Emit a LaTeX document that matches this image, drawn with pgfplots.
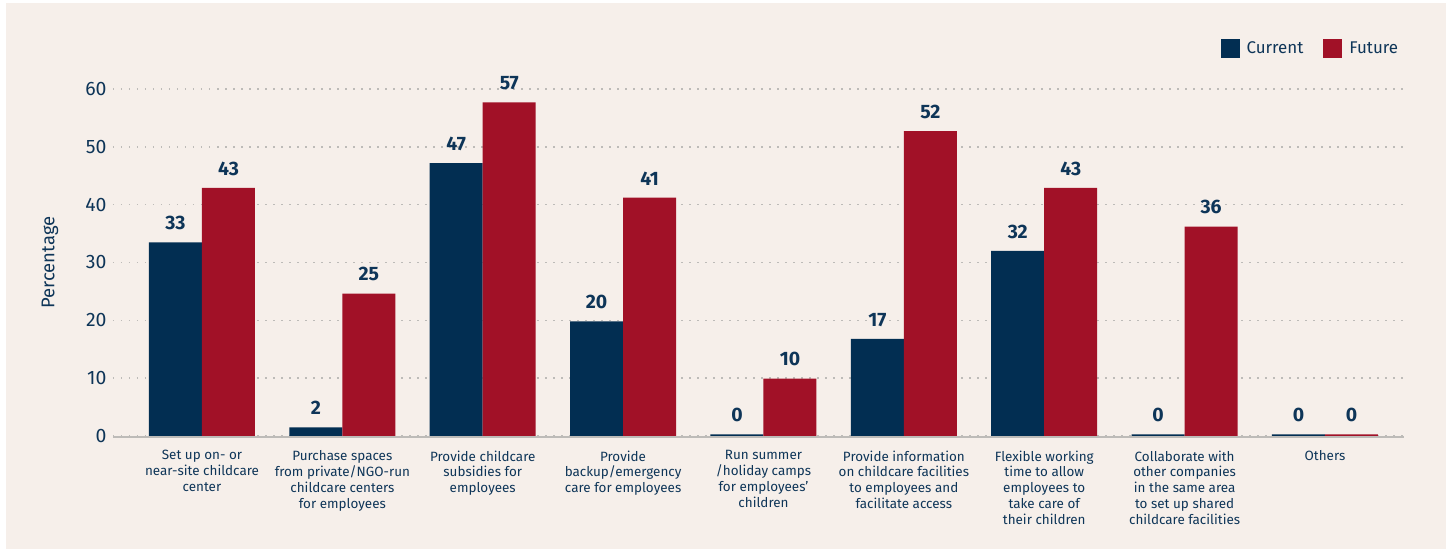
\documentclass[border=0pt]{standalone}
\usepackage{fontspec}
\setmainfont{Fira Sans}
\usepackage{pgfplots}
\pgfplotsset{compat=1.18}
\usepackage{pgfplotstable}
\definecolor{navy}{HTML}{022E52}
\definecolor{crimson}{HTML}{A11127}
\definecolor{txt}{HTML}{0E3558}
\definecolor{bg}{HTML}{F6EFEA}
\definecolor{gridc}{HTML}{BDBBB8}
\pgfplotstableread{
x cur curl fut futl
0 33.5 33 42.9 43
1 1.5 2 24.6 25
2 47.2 47 57.7 57
3 19.8 20 41.2 41
4 0.3 0 9.9 10
5 16.8 17 52.7 52
6 32.0 32 42.9 43
7 0.3 0 36.2 36
8 0.3 0 0.3 0
}\datatable
\begin{document}
\begin{tikzpicture}
\fill[white] (-113bp,-114bp) rectangle (1336bp,436bp);
\fill[bg] (-107bp,-113bp) rectangle (1333bp,433bp);
\useasboundingbox (-113bp,-114bp) rectangle (1336bp,436bp);
\begin{axis}[
  at={(0,0)}, anchor=south west,
  scale only axis, width=1291bp, height=347bp,
  xmin=-0.634, xmax=8.563, ymin=0, ymax=60,
  ybar=0pt, bar width=53bp,
  clip=false,
  axis line style={draw=none},
  major tick length=0pt,
  ytick={0,10,20,30,40,50,60},
  xtick={0,1,2,3,4,5,6,7,8},
  xticklabels={
    {Set up on- or\\near-site childcare\\center},
    {Purchase spaces\\from private/NGO-run\\childcare centers\\for employees},
    {Provide childcare\\subsidies for\\employees},
    {Provide\\backup/emergency\\care for employees},
    {Run summer\\/holiday camps\\for employees'\\children},
    {Provide information\\on childcare facilities\\to employees and\\facilitate access},
    {Flexible working\\time to allow\\employees to\\take care of\\their children},
    {Collaborate with\\other companies\\in the same area\\to set up shared\\childcare facilities},
    {Others}},
  /pgf/number format/assume math mode=true,
  yticklabel style={font=\fontsize{19.5}{22}\selectfont, text=txt, xshift=-3bp},
  xticklabel style={font=\fontsize{13.5}{16}\selectfont, text=txt, align=center, anchor=north, yshift=-11bp},
  ymajorgrids,
  grid style={gridc, line width=1.5bp, dash pattern=on 1.5bp off 6.5bp},
  ylabel={Percentage},
  ylabel style={at={(axis description cs:-0.0488,0.5)}, anchor=center, font=\fontsize{18.5}{21}\selectfont, text=txt},
  point meta=explicit symbolic,
  nodes near coords,
  nodes near coords style={font=\bfseries\fontsize{19.5}{22}\selectfont, text=txt, yshift=9bp},
  legend style={at={(0.9995,1.118)}, anchor=east, draw=none, fill=none, legend columns=2,
    font=\fontsize{17}{20}\selectfont, text=txt,
    /tikz/every odd column/.append style={column sep=5bp},
    /tikz/every even column/.append style={column sep=18bp}},
  legend image code/.code={\fill[#1] (0bp,-9.5bp) rectangle (19bp,9.5bp);},
]
\addplot[fill=navy, draw=none] table[x=x, y=cur, meta=curl] {\datatable};
\addplot[fill=crimson, draw=none] table[x=x, y=fut, meta=futl] {\datatable};
\legend{Current, Future}
\end{axis}
\draw[gridc, line width=1.8bp] (0bp,-0.9bp) -- (1291bp,-0.9bp);
\end{tikzpicture}
\end{document}
